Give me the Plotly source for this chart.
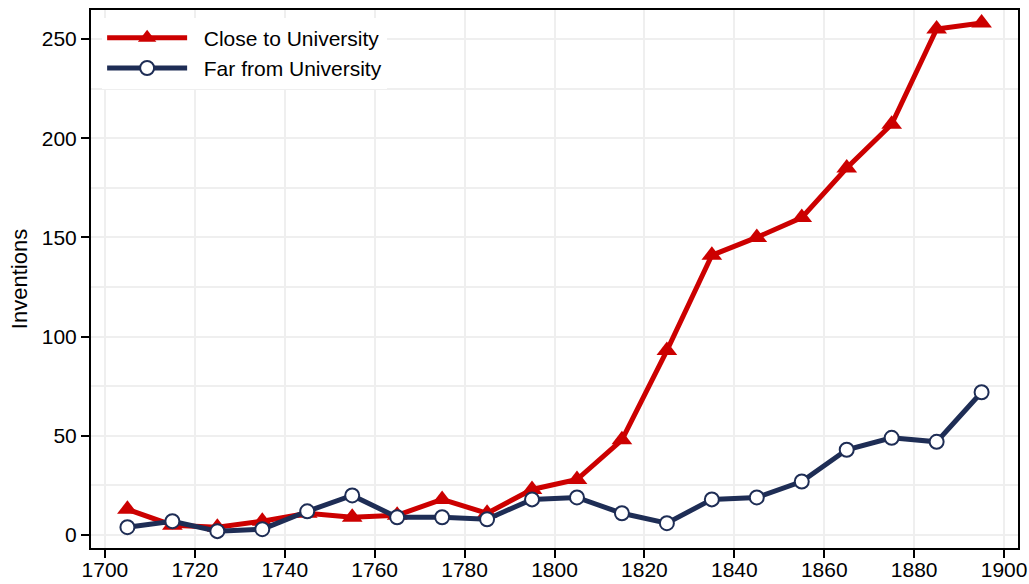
import plotly.graph_objects as go

years = [1705, 1715, 1725, 1735, 1745, 1755, 1765, 1775, 1785, 1795,
         1805, 1815, 1825, 1835, 1845, 1855, 1865, 1875, 1885, 1895]
close_univ = [13, 5, 4, 7, 11, 9, 10, 18, 11, 23,
              28, 48, 93, 141, 150, 160, 185, 207, 255, 258]
far_univ = [4, 7, 2, 3, 12, 20, 9, 9, 8, 18,
            19, 11, 6, 18, 19, 27, 43, 49, 47, 72]
x_ticks = [1700, 1720, 1740, 1760, 1780, 1800, 1820, 1840, 1860, 1880, 1900]
y_ticks = [0, 50, 100, 150, 200, 250]

RED = "#CC0000"
NAVY = "#1E2D55"
FONT = "Liberation Sans, Arial, Helvetica, sans-serif"
NB = "\u00a0\u00a0"

fig = go.Figure()
fig.add_trace(go.Scatter(
    x=years, y=close_univ, name=NB + "Close to University", mode="lines+markers",
    line=dict(color=RED, width=5),
    marker=dict(symbol="triangle-up", size=18, color=RED, line=dict(width=0)),
))
fig.add_trace(go.Scatter(
    x=years, y=far_univ, name=NB + "Far from University", mode="lines+markers",
    line=dict(color=NAVY, width=5),
    marker=dict(symbol="circle", size=14, color="white", line=dict(color=NAVY, width=2)),
))

fig.update_layout(
    width=1029, height=584,
    margin=dict(l=91, r=11, t=10, b=36),
    paper_bgcolor="white", plot_bgcolor="white",
    font=dict(family=FONT, size=21, color="black"),
    showlegend=True,
    legend=dict(x=0.012, y=0.986, xanchor="left", yanchor="top",
                bgcolor="white", borderwidth=0,
                font=dict(size=21), itemwidth=80, tracegroupgap=0),
)
fig.update_xaxes(
    range=[1696.9, 1903.1], tickmode="array", automargin=False,
    tickvals=x_ticks, ticklabelstandoff=-6,
    ticks="outside", ticklen=8, tickwidth=1.5, tickcolor="black",
    showline=True, linecolor="black", linewidth=2, mirror=True,
    showgrid=True, gridcolor="#EFEFEF", gridwidth=1.5, zeroline=False,
    tickfont=dict(size=21),
)
fig.update_yaxes(
    range=[-6.5, 264.6], tickmode="array", automargin=False,
    tickvals=y_ticks,
    ticks="outside", ticklen=8, tickwidth=1.5, tickcolor="black",
    showline=True, linecolor="black", linewidth=2, mirror=True,
    showgrid=True, gridcolor="#EFEFEF", gridwidth=1.5, zeroline=False,
    minor=dict(dtick=25, showgrid=True, gridcolor="#EFEFEF", gridwidth=1.5, ticks=""),
    title=dict(text="Inventions", font=dict(size=22), standoff=8),
    tickfont=dict(size=21),
)

fig.write_html(
    "out.html",
    config={"displayModeBar": False},
    post_script="document.body.style.margin='0';document.body.style.overflow='hidden';",
)
